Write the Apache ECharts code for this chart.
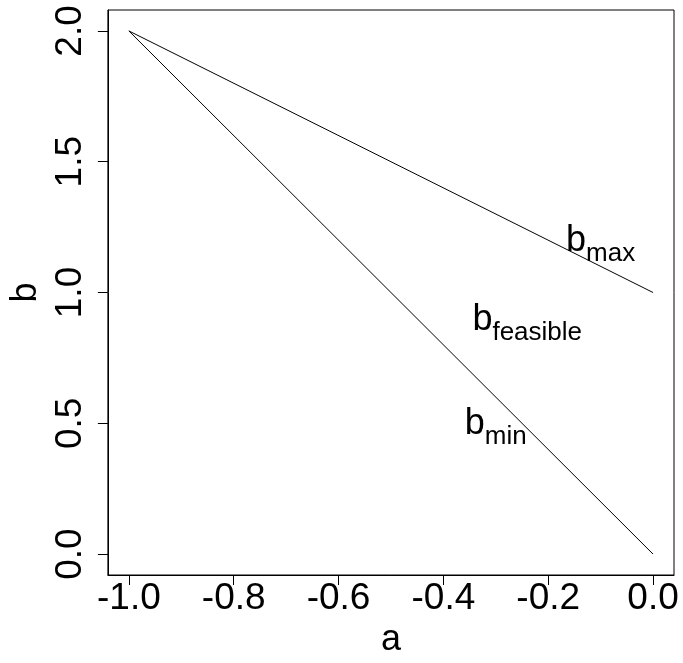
<!DOCTYPE html>
<html>
<head>
<meta charset="utf-8">
<script src="https://cdn.jsdelivr.net/npm/echarts@6/dist/echarts.min.js"></script>
<style>
  html, body { margin: 0; padding: 0; background: #fff; }
  #chart { width: 683px; height: 663px; }
</style>
</head>
<body>
<div id="chart"></div>
<script>
// Bounds on b as a function of a
const aValues = [-1.0, 0.0];
const bMaxValues = [2.0, 1.0];
const bMinValues = [2.0, 0.0];

// Tick positions
const xTicks = [-1.0, -0.8, -0.6, -0.4, -0.2, 0.0];
const yTicks = [0.0, 0.5, 1.0, 1.5, 2.0];

// Annotations: subscript text and anchor (a, b)
const noteSubs = ['max', 'feasible', 'min'];
const noteA = [-0.10, -0.24, -0.30];
const noteB = [1.20, 0.90, 0.50];

const FONT = "'Liberation Sans', Arial, sans-serif";
const chart = echarts.init(document.getElementById('chart'), null, { renderer: 'canvas' });

const axisCommon = {
  axisLine: { show: true, onZero: false, lineStyle: { color: '#000', width: 1 } },
  axisTick: { show: true, length: 10, lineStyle: { color: '#000', width: 1 } },
  splitLine: { show: false },
  nameTextStyle: { color: '#000', fontSize: 36, fontFamily: FONT }
};

chart.setOption({
  animation: false,
  backgroundColor: '#fff',
  grid: {
    left: 104, right: 9, top: 10, bottom: 83,
    show: true, borderColor: '#000', borderWidth: 1, backgroundColor: 'transparent'
  },
  xAxis: Object.assign({}, axisCommon, {
    type: 'value',
    min: -1.04, max: 0.04,
    name: 'a', nameLocation: 'middle', nameGap: 47,
    axisTick: Object.assign({}, axisCommon.axisTick, { customValues: xTicks }),
    axisLabel: {
      customValues: xTicks, margin: 5,
      color: '#000', fontSize: 37, fontFamily: FONT,
      formatter: v => v.toFixed(1)
    }
  }),
  yAxis: Object.assign({}, axisCommon, {
    type: 'value',
    min: -0.08, max: 2.08,
    name: 'b', nameLocation: 'middle', nameGap: 59,
    axisTick: Object.assign({}, axisCommon.axisTick, { customValues: yTicks }),
    axisLabel: {
      customValues: yTicks, margin: 19, rotate: 90,
      color: '#000', fontSize: 37, fontFamily: FONT,
      formatter: v => v.toFixed(1)
    }
  }),
  series: [
    {
      type: 'line', symbol: 'none', silent: true,
      lineStyle: { color: '#000', width: 1 },
      data: aValues.map((a, i) => [a, bMaxValues[i]])
    },
    {
      type: 'line', symbol: 'none', silent: true,
      lineStyle: { color: '#000', width: 1 },
      data: aValues.map((a, i) => [a, bMinValues[i]])
    },
    {
      type: 'scatter', symbolSize: 0, silent: true,
      itemStyle: { opacity: 1 },
      data: noteA.map((a, i) => ({ value: [a, noteB[i]], sub: noteSubs[i] })),
      label: {
        show: true, position: 'inside', offset: [0, 5],
        color: '#000', textBorderWidth: 0, opacity: 1,
        formatter: p => '{m|b}{s|' + p.data.sub + '}',
        rich: {
          m: { fontSize: 36, fontFamily: FONT, color: '#000', verticalAlign: 'bottom', padding: [0, 0, 8, 0] },
          s: { fontSize: 26, fontFamily: FONT, color: '#000', verticalAlign: 'bottom' }
        }
      }
    }
  ]
});
</script>
</body>
</html>
